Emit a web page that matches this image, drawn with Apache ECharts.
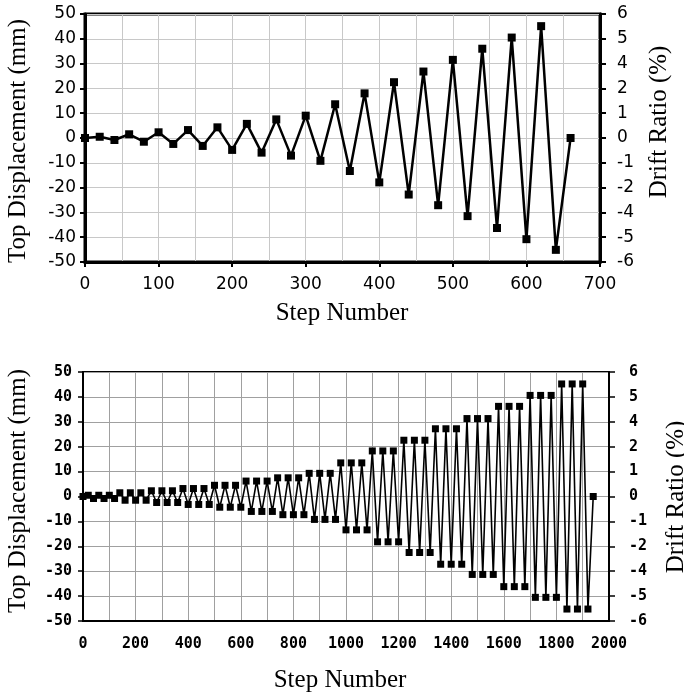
<!DOCTYPE html>
<html>
<head>
<meta charset="utf-8">
<script src="https://cdn.jsdelivr.net/npm/echarts@6/dist/echarts.min.js"></script>
<style>
html,body{margin:0;padding:0;background:#fff;}
#c{width:684px;height:695px;}
</style>
</head>
<body>
<div id="c"></div>
<script>
// ---- data ----
var topSteps = [0,20,40,60,80,100,120,140,160,180,200,220,240,260,280,300,320,340,360,380,400,420,440,460,480,500,520,540,560,580,600,620,640,660];
var topDisp = [0,0.5,-0.8,1.5,-1.5,2.3,-2.4,3.2,-3.2,4.3,-4.8,5.7,-5.9,7.5,-7.1,9.0,-9.2,13.6,-13.3,18.0,-17.9,22.5,-22.8,26.8,-27.1,31.5,-31.5,36.0,-36.3,40.5,-40.8,45.1,-45.1,0];

var botSteps = [0,20,40,60,80,100,120,140,160,180,
  200,220,240,260,280,300,320,340,360,380,
  400,420,440,460,480,500,520,540,560,580,
  600,620,640,660,680,700,720,740,760,780,
  800,820,840,860,880,900,920,940,960,980,
  1000,1020,1040,1060,1080,1100,1120,1140,1160,1180,
  1200,1220,1240,1260,1280,1300,1320,1340,1360,1380,
  1400,1420,1440,1460,1480,1500,1520,1540,1560,1580,
  1600,1620,1640,1660,1680,1700,1720,1740,1760,1780,
  1800,1820,1840,1860,1880,1900,1920,1940];
var botDisp = [0,
  0.5,-0.8,0.5,-0.8,0.5,-0.8,
  1.5,-1.5,1.5,-1.5,1.5,-1.5,
  2.3,-2.4,2.3,-2.4,2.3,-2.4,
  3.2,-3.2,3.2,-3.2,3.2,-3.2,
  4.5,-4.3,4.5,-4.3,4.5,-4.3,
  6.2,-6.0,6.2,-6.0,6.2,-6.0,
  7.5,-7.3,7.5,-7.3,7.5,-7.3,
  9.3,-9.2,9.3,-9.2,9.3,-9.2,
  13.5,-13.4,13.5,-13.4,13.5,-13.4,
  18.3,-18.2,18.3,-18.2,18.3,-18.2,
  22.6,-22.5,22.6,-22.5,22.6,-22.5,
  27.2,-27.2,27.2,-27.2,27.2,-27.2,
  31.3,-31.3,31.3,-31.3,31.3,-31.3,
  36.2,-36.2,36.2,-36.2,36.2,-36.2,
  40.6,-40.5,40.6,-40.5,40.6,-40.5,
  45.2,-45.2,45.2,-45.2,45.2,-45.2,
  0];

var driftTicks = ['-6','-5','-4','-2','-1','0','1','2','4','5','6'];
var yTitleLeft = 'Top Displacement (mm)';
var yTitleRight = 'Drift Ratio (%)';
var xTitle = 'Step Number';

// ---- chart ----
function pairs(xs, ys){ return xs.map(function(x,i){ return [x, ys[i]]; }); }
function plain(v){ return String(v); }
var chart = echarts.init(document.getElementById('c'), null, {renderer:'canvas'});

var topFont = {fontFamily:'DejaVu Sans', fontSize:17, color:'#000'};
var botFont = {fontFamily:'DejaVu Sans Mono', fontSize:15, color:'#000', fontWeight:'bold'};

function yAxes(gi, lw, font, lmargin, rmargin, gridColor){
  return [{
    type:'value', gridIndex:gi, position:'left', min:-50, max:50, interval:10,
    axisLine:{show:true, onZero:false, lineStyle:{color:'#000', width:lw}},
    axisTick:{show:true, inside:false, length:5, lineStyle:{color:'#000', width:lw>2?2:1.5}},
    axisLabel:Object.assign({margin:lmargin, formatter:plain}, font),
    splitLine:{show:true, lineStyle:{color:gridColor, width:1}}
  },{
    type:'value', gridIndex:gi, position:'right', min:-50, max:50, interval:10,
    axisLine:{show:true, onZero:false, lineStyle:{color:'#000', width:lw}},
    axisTick:{show:true, inside:false, length:6, lineStyle:{color:'#000', width:lw>2?2:1.5}},
    axisLabel:Object.assign({margin:rmargin, formatter:function(v){ return driftTicks[Math.round((v+50)/10)]; }}, font),
    splitLine:{show:false}
  }];
}

var option = {
  animation:false,
  backgroundColor:'#fff',
  grid:[
    {left:85, top:14, width:515, height:248, show:true, borderColor:'#000', borderWidth:3, containLabel:false},
    {left:83, top:372, width:526, height:249, show:true, borderColor:'#000', borderWidth:2, containLabel:false}
  ],
  xAxis:[
    {type:'value', gridIndex:0, min:0, max:700, interval:100,
     axisLine:{show:true, onZero:false, lineStyle:{color:'#000', width:3}},
     axisTick:{show:true, length:5, lineStyle:{color:'#000', width:2}},
     axisLabel:Object.assign({margin:14, formatter:plain}, topFont),
     splitLine:{show:true, lineStyle:{color:'#c8c8c8', width:1}},
     minorTick:{show:false, splitNumber:2},
     minorSplitLine:{show:true, lineStyle:{color:'#c8c8c8', width:1}}
    },
    {type:'value', gridIndex:1, min:0, max:2000, interval:200,
     axisLine:{show:true, onZero:false, lineStyle:{color:'#000', width:2}},
     axisTick:{show:false},
     axisLabel:Object.assign({margin:16, formatter:plain}, botFont),
     splitLine:{show:true, lineStyle:{color:'#a0a0a0', width:1}},
     minorTick:{show:false, splitNumber:2},
     minorSplitLine:{show:true, lineStyle:{color:'#a0a0a0', width:1}}
    }
  ],
  yAxis: yAxes(0, 3, topFont, 9, 17, '#c8c8c8').concat(yAxes(1, 2, botFont, 11, 20, '#a0a0a0')),
  series:[
    {type:'line', xAxisIndex:0, yAxisIndex:0, data:pairs(topSteps, topDisp),
     symbol:'rect', symbolSize:8, showAllSymbol:true, clip:false,
     lineStyle:{color:'#000', width:2.5}, itemStyle:{color:'#000'}},
    {type:'line', xAxisIndex:1, yAxisIndex:2, data:pairs(botSteps, botDisp),
     symbol:'rect', symbolSize:7, showAllSymbol:true, clip:false,
     lineStyle:{color:'#000', width:1.6}, itemStyle:{color:'#000'}}
  ],
  graphic:[
    {type:'text', x:18, y:141, rotation:Math.PI/2, style:{text:yTitleLeft, font:'25px "Liberation Serif"', fill:'#000', align:'center', verticalAlign:'middle'}},
    {type:'text', x:659, y:122, rotation:Math.PI/2, style:{text:yTitleRight, font:'25px "Liberation Serif"', fill:'#000', align:'center', verticalAlign:'middle'}},
    {type:'text', x:342, y:313, style:{text:xTitle, font:'25px "Liberation Serif"', fill:'#000', align:'center', verticalAlign:'middle'}},
    {type:'text', x:18, y:491, rotation:Math.PI/2, style:{text:yTitleLeft, font:'25px "Liberation Serif"', fill:'#000', align:'center', verticalAlign:'middle'}},
    {type:'text', x:676, y:497, rotation:Math.PI/2, style:{text:yTitleRight, font:'25px "Liberation Serif"', fill:'#000', align:'center', verticalAlign:'middle'}},
    {type:'text', x:340, y:680, style:{text:xTitle, font:'25px "Liberation Serif"', fill:'#000', align:'center', verticalAlign:'middle'}}
  ]
};
chart.setOption(option);
</script>
</body>
</html>
